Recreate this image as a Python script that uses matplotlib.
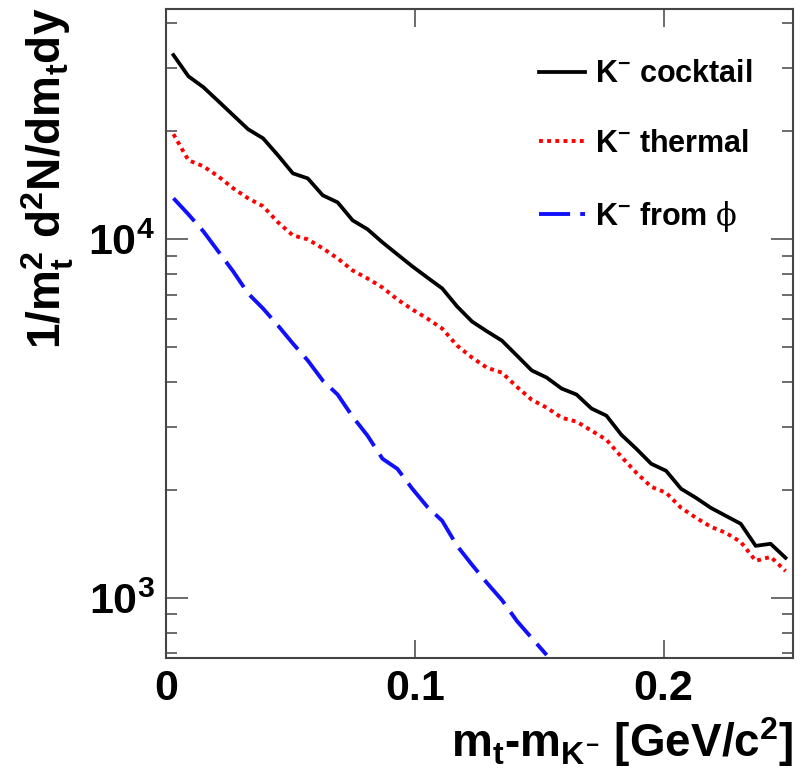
import numpy as np
import matplotlib
matplotlib.use("Agg")
import matplotlib.pyplot as plt
from matplotlib.ticker import FixedLocator, LogLocator, FuncFormatter, NullFormatter, NullLocator

plt.rcParams['font.family'] = ['Liberation Sans', 'DejaVu Sans']
plt.rcParams['font.weight'] = 'bold'
plt.rcParams['mathtext.fontset'] = 'custom'
plt.rcParams['mathtext.rm'] = 'Liberation Sans:bold'
plt.rcParams['mathtext.it'] = 'Liberation Sans:bold'
plt.rcParams['mathtext.bf'] = 'Liberation Sans:bold'
plt.rcParams['mathtext.sf'] = 'DejaVu Serif:normal'

# bin centres in m_t - m_K [GeV/c^2], bin width 0.006
mt = np.arange(42) * 0.006 + 0.003

cocktail = [32660, 28500, 26580, 24300, 22200, 20280, 19140, 17160, 15280, 14790,
            13270, 12680, 11300, 10670, 9810, 9080, 8410, 7830, 7300, 6500,
            5900, 5540, 5220, 4745, 4310, 4117, 3837, 3692, 3375, 3224,
            2852, 2607, 2367, 2262, 2016, 1902, 1783, 1694, 1610, 1397,
            1416, 1294]

thermal = [19650, 16620, 15990, 14990, 13880, 13020, 12370, 11160, 10260, 10000,
           9440, 8850, 8190, 7780, 7340, 6800, 6375, 6015, 5640, 5055,
           4680, 4385, 4250, 3880, 3570, 3394, 3182, 3102, 2928, 2762,
           2476, 2235, 2042, 1965, 1784, 1673, 1579, 1519, 1433, 1269,
           1302, 1189]

from_phi = [13020, 11745, 10530, 9260, 8140, 7065, 6415, 5750, 5123, 4592,
            4038, 3690, 3203, 2835, 2445, 2291, 2016, 1796, 1641, 1397,
            1237, 1101, 987, 863, 773, 693]

fig = plt.figure(figsize=(8.08, 7.68), dpi=100)
ax = fig.add_axes([166/808, 1-658/768, (793-166)/808, (658-9)/768])

ax.plot(mt, cocktail, color='black', lw=2.7, label=r'K$^{-}$ cocktail')
ax.plot(mt, thermal, color='#ff0000', lw=2.8, ls=(0, (1, 1.1)), label=r'K$^{-}$ thermal')
ax.plot(mt[:len(from_phi)], from_phi, color='#1010ff', lw=2.8, ls=(0, (8, 2.6)),
        label=r'K$^{-}$ from $\mathsf{\phi}$')

ax.set_yscale('log')
ax.set_xlim(0, 0.252)
ax.set_ylim(680, 43900)

ax.xaxis.set_major_locator(FixedLocator([0, 0.1, 0.2]))
ax.xaxis.set_minor_locator(NullLocator())
ax.xaxis.set_major_formatter(FuncFormatter(lambda v, p: '0' if v == 0 else '%.1f' % v))
ax.yaxis.set_major_locator(LogLocator(base=10))
ax.yaxis.set_minor_locator(LogLocator(base=10, subs=np.arange(2, 10)))
ax.yaxis.set_major_formatter(FuncFormatter(lambda v, p: r'$10^{%d}$' % round(np.log10(v))))
ax.yaxis.set_minor_formatter(NullFormatter())

for s in ax.spines.values():
    s.set_color('#444444')
    s.set_linewidth(1.5)
ax.tick_params(which='both', direction='in', top=True, right=True, color='#444444',
               width=1.1, labelsize=31, pad=8)
ax.tick_params(axis='x', which='major', length=13)
ax.tick_params(axis='y', which='major', length=16)
ax.tick_params(axis='y', which='minor', length=8)

fig.text(793/808, 1-742/768, r'm$_{t}$-m$_{K^{-}}$ [GeV/c$^{2}$]', fontsize=33,
         ha='right', va='center')
fig.text(48/808, 1-8/768, r'1/m$_{t}^{2}$ d$^{2}$N/dm$_{t}$dy', fontsize=33,
         rotation=90, ha='center', va='top')

leg = ax.legend(loc='upper right', bbox_to_anchor=(0.98, 0.965), frameon=False,
                fontsize=22, handlelength=1.5, handletextpad=0.35, labelspacing=1.3)

fig.savefig('out.png', dpi=100)
